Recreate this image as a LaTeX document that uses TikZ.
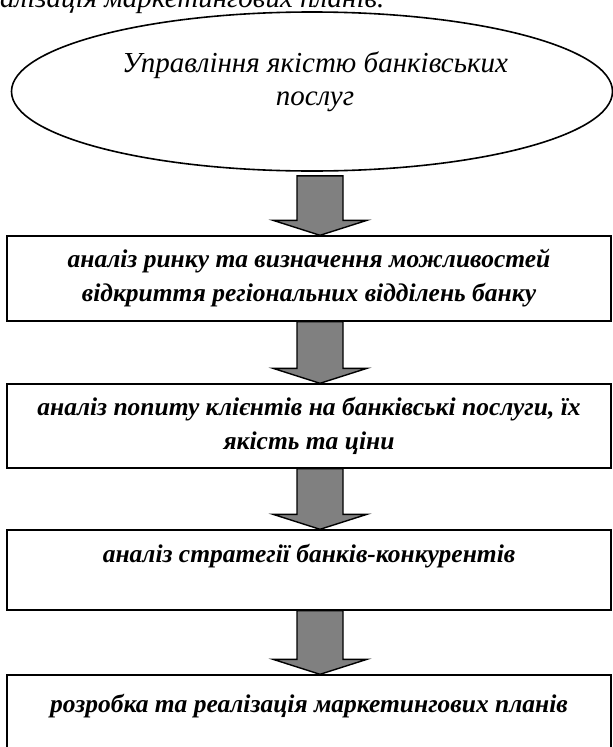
\documentclass[tikz,border=0pt]{standalone}
\usepackage{fontspec}
\setmainfont{Liberation Serif}
\usetikzlibrary{shapes.geometric,calc}
\definecolor{arrowgray}{HTML}{808080}
\tikzset{
  boxnode/.style={draw=black, line width=1.4pt, fill=white, rectangle,
    minimum width=604pt, inner sep=0pt, align=center,
    font=\fontsize{25.5}{34}\selectfont\bfseries\itshape},
  ovalnode/.style={draw=black, line width=1.6pt, ellipse,
    minimum width=601pt, minimum height=159pt, inner sep=0pt},
  ovaltext/.style={align=center, inner sep=0pt,
    font=\fontsize{29}{33}\selectfont\itshape},
  toptext/.style={anchor=base west, inner sep=0pt,
    font=\fontsize{29}{33}\selectfont\itshape},
  blockarrow/.style={draw=black, fill=arrowgray, line width=1.4pt,
    line join=miter,
    to path={let \p1=(\tikztostart), \p2=(\tikztotarget) in
      (\x1-23pt,\y1) -- (\x1+23pt,\y1) -- (\x1+23pt,\y2+15pt)
      -- (\x1+47pt,\y2+15pt) -- (\x1,\y2) -- (\x1-47pt,\y2+15pt)
      -- (\x1-23pt,\y2+15pt) -- cycle}},
}
\begin{document}
\begin{tikzpicture}[x=1pt,y=-1pt]
  \useasboundingbox (0,0) rectangle (613,747);
  \fill[white] (0,0) rectangle (613,747);
  \clip (0,0) rectangle (613,747);

  \node[toptext] (top) at (-27,7) {реалізація маркетингових планів.};

  \node[ovalnode] (e) at (312,91.5) {};
  \node[ovaltext] (et) at (315,81.5) {Управління якістю банківських\\послуг};

  \node[boxnode, minimum height=85pt] (b1) at (309,278.5)
    {аналіз ринку та визначення можливостей\\відкриття регіональних відділень банку};
  \node[boxnode, minimum height=84pt] (b2) at (309,426)
    {аналіз попиту клієнтів на банківські послуги, їх\\якість та ціни};
  \node[boxnode, minimum height=80pt] (b3) at (309,570)
    {аналіз стратегії банків-конкурентів\\\mbox{}};
  \node[boxnode, minimum height=90pt] (b4) at (309,720)
    {розробка та реалізація маркетингових планів\\\mbox{}};

  \coordinate (col) at (320,0);
  \coordinate (a1s) at ($(col |- e.south)+(0,4)$);
  \draw[blockarrow] (a1s) to (col |- b1.north);
  \draw[blockarrow] (col |- b1.south) to (col |- b2.north);
  \draw[blockarrow] (col |- b2.south) to (col |- b3.north);
  \draw[blockarrow] (col |- b3.south) to (col |- b4.north);
\end{tikzpicture}
\end{document}
